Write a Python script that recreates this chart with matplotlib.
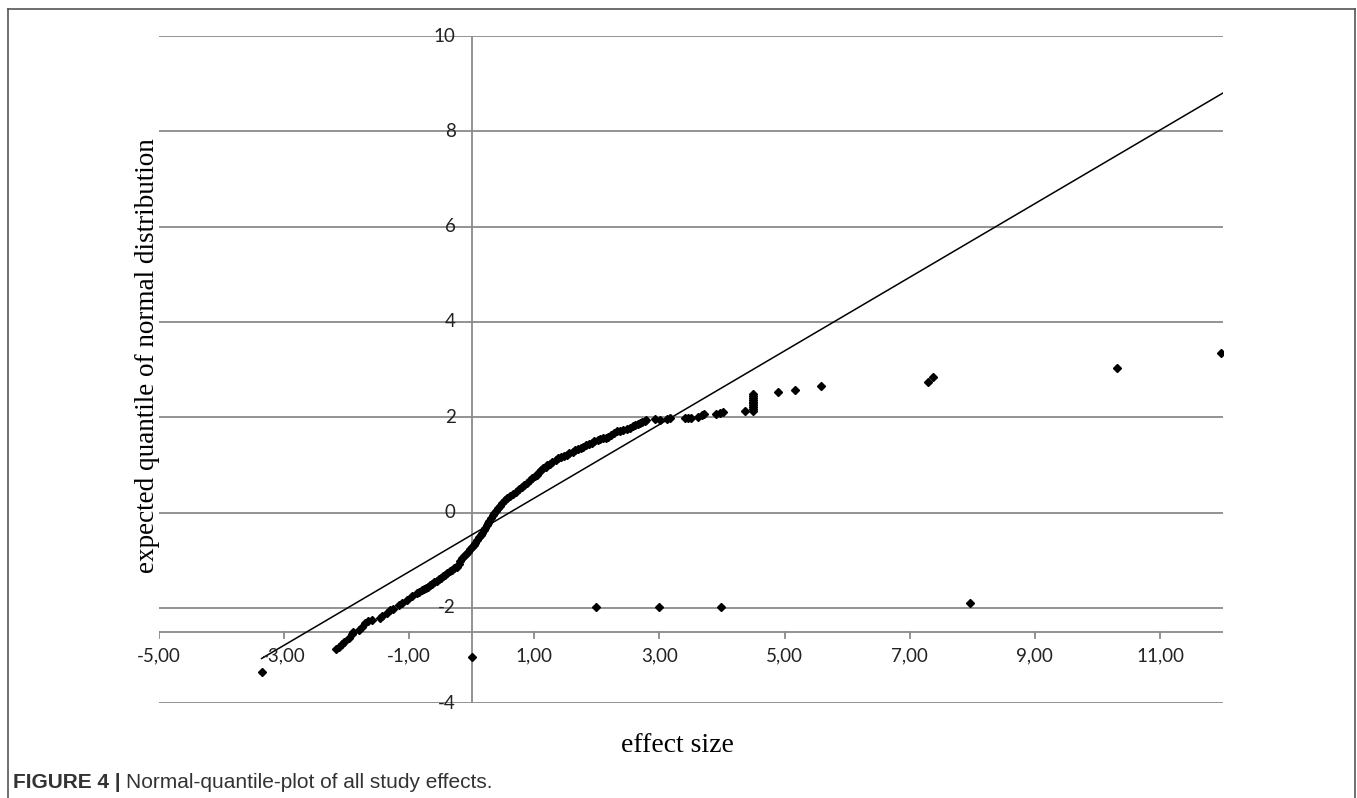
import matplotlib
matplotlib.use("Agg")
import matplotlib.pyplot as plt
from matplotlib.lines import Line2D
from matplotlib.transforms import offset_copy

# sorted effect sizes (x) and expected normal quantiles (y)
effect = [-3.35,
          -2.17, -2.12, -2.08, -2.04, -1.97, -1.92, -1.90, -1.81, -1.76, -1.71,
          -1.66, -1.60, -1.47, -1.44, -1.36, -1.31, -1.26, -1.17, -1.12, -1.04,
          -0.96, -0.88, -0.84, -0.80, -0.77, -0.73, -0.70, -0.67, -0.63, -0.60,
          -0.56, -0.53, -0.50, -0.46, -0.43, -0.39, -0.35, -0.32, -0.28, -0.24,
          -0.21, -0.19, -0.16, -0.12, -0.09, -0.06, -0.03, 0.00, 0.03, 0.05,
          0.08, 0.11, 0.14, 0.16, 0.19, 0.21, 0.24, 0.26, 0.28, 0.31,
          0.34, 0.36, 0.39, 0.42, 0.45, 0.49, 0.53, 0.57, 0.61, 0.66,
          0.70, 0.75, 0.80, 0.84, 0.89, 0.93, 0.97, 1.01, 1.04, 1.08,
          1.11, 1.14, 1.18, 1.21, 1.25, 1.29, 1.34, 1.38, 1.43, 1.47,
          1.52, 1.56, 1.61, 1.65, 1.70, 1.74, 1.78, 1.83, 1.87, 1.92,
          1.96, 2.01, 2.05, 2.10, 2.14, 2.18, 2.23, 2.27, 2.32, 2.37,
          2.42, 2.48, 2.53, 2.58, 2.61, 2.66, 2.69, 2.72, 2.77, 2.79,
          2.93, 3.01, 3.12, 3.17, 3.41, 3.46, 3.51, 3.62, 3.68, 3.71,
          3.90, 3.96, 4.02, 4.37,
          4.50, 4.50, 4.50, 4.50, 4.50, 4.50, 4.50, 4.50, 4.50, 4.50,
          4.90, 5.16, 5.59, 7.29, 7.38, 10.32, 11.97,
          0.00, 1.99, 3.00, 3.99, 7.96]
quantile = [-3.34,
            -2.87, -2.81, -2.76, -2.71, -2.64, -2.55, -2.50, -2.46, -2.39, -2.31,
            -2.27, -2.25, -2.22, -2.17, -2.10, -2.04, -2.03, -1.94, -1.89, -1.83,
            -1.75, -1.69, -1.66, -1.63, -1.61, -1.58, -1.55, -1.52, -1.49, -1.46,
            -1.43, -1.40, -1.37, -1.33, -1.30, -1.27, -1.23, -1.20, -1.17, -1.13,
            -1.07, -1.01, -0.96, -0.90, -0.86, -0.82, -0.77, -0.72, -0.68, -0.64,
            -0.58, -0.52, -0.47, -0.43, -0.37, -0.32, -0.26, -0.22, -0.17, -0.11,
            -0.05, -0.01, 0.04, 0.09, 0.14, 0.20, 0.26, 0.31, 0.35, 0.40,
            0.44, 0.49, 0.54, 0.58, 0.63, 0.68, 0.72, 0.76, 0.79, 0.85,
            0.89, 0.93, 0.96, 0.99, 1.03, 1.07, 1.10, 1.14, 1.16, 1.18,
            1.21, 1.25, 1.28, 1.31, 1.33, 1.36, 1.38, 1.41, 1.44, 1.47,
            1.50, 1.52, 1.54, 1.56, 1.57, 1.59, 1.63, 1.67, 1.71, 1.72,
            1.73, 1.75, 1.78, 1.82, 1.83, 1.87, 1.88, 1.91, 1.93, 1.94,
            1.96, 1.95, 1.96, 1.99, 1.98, 1.99, 1.99, 2.01, 2.05, 2.06,
            2.06, 2.09, 2.12, 2.13,
            2.13, 2.17, 2.21, 2.25, 2.29, 2.33, 2.37, 2.41, 2.45, 2.48,
            2.53, 2.58, 2.66, 2.74, 2.84, 3.03, 3.35,
            -3.02, -1.99, -1.99, -1.97, -1.89]

# reference line
line_x = [-3.36, 12.0]
slope, intercept = 0.772, -0.466

xticks = [-5, -3, -1, 1, 3, 5, 7, 9, 11]
yticks = [-4, -2, 0, 2, 4, 6, 8, 10]
x_axis_at = -2.5

W, H = 1357, 798
fig = plt.figure(figsize=(W / 100, H / 100), dpi=100)
ax = fig.add_axes([159 / W, 1 - 703.3 / H, (1222.5 - 159) / W, (703.3 - 36) / H])
ax.set_xlim(-5, 12)
ax.set_ylim(-4, 10)
ax.axis("off")

grid = "#8a8a8a"
for v in yticks:
    ax.axhline(v, color=grid, lw=1.3, zorder=1)
ax.axvline(0, color=grid, lw=1.3, zorder=1)
ax.axhline(x_axis_at, color=grid, lw=1.3, zorder=1)

tick_font = dict(family=["Lato", "DejaVu Sans"], size=13.5, color="#222222")
down = offset_copy(ax.transData, fig=fig, x=0, y=-24, units="dots")
for t in xticks:
    ax.plot([t, t], [x_axis_at, x_axis_at - 0.12], color=grid, lw=1.3, zorder=1)
    ax.text(t, x_axis_at, f"{t:.2f}".replace(".", ","), transform=down,
            ha="center", va="center", **tick_font)
left = offset_copy(ax.transData, fig=fig, x=-16, y=0, units="dots")
for v in yticks:
    ax.text(0, v, str(v), transform=left, ha="right", va="center", **tick_font)

ys = [slope * x + intercept for x in line_x]
ax.plot(line_x, ys, color="black", lw=1.1, zorder=2)
ax.plot(effect, quantile, linestyle="none", marker="D", markersize=3.6,
        color="black", zorder=3)

serif = ["Liberation Serif", "DejaVu Serif"]
fig.text(677 / W, 1 - 746 / H, "effect size", ha="center", va="center",
         family=serif, size=20)
fig.text(148 / W, 1 - 356 / H, "expected quantile of normal distribution",
         ha="center", va="center", rotation=90, family=serif, size=19.5)

# page frame
fc = "#555555"
fig.add_artist(Line2D([8 / W, 8 / W], [0, 1 - 9 / H], color=fc, lw=1.2))
fig.add_artist(Line2D([8 / W, 1355 / W], [1 - 9 / H, 1 - 9 / H], color=fc, lw=1.2))
fig.add_artist(Line2D([1355 / W, 1355 / W], [0, 1 - 9 / H], color=fc, lw=1.2))

cap = ["Liberation Sans", "DejaVu Sans"]
t1 = fig.text(13 / W, 1 - 783 / H, "FIGURE 4 |", ha="left", va="center",
              family=cap, size=15, weight="bold", color="#333333")
fig.canvas.draw()
bb = t1.get_window_extent()
fig.text((bb.x1 + 5) / W, 1 - 783 / H, "Normal-quantile-plot of all study effects.",
         ha="left", va="center", family=cap, size=15, color="#333333")

fig.savefig("out.png", dpi=100)
